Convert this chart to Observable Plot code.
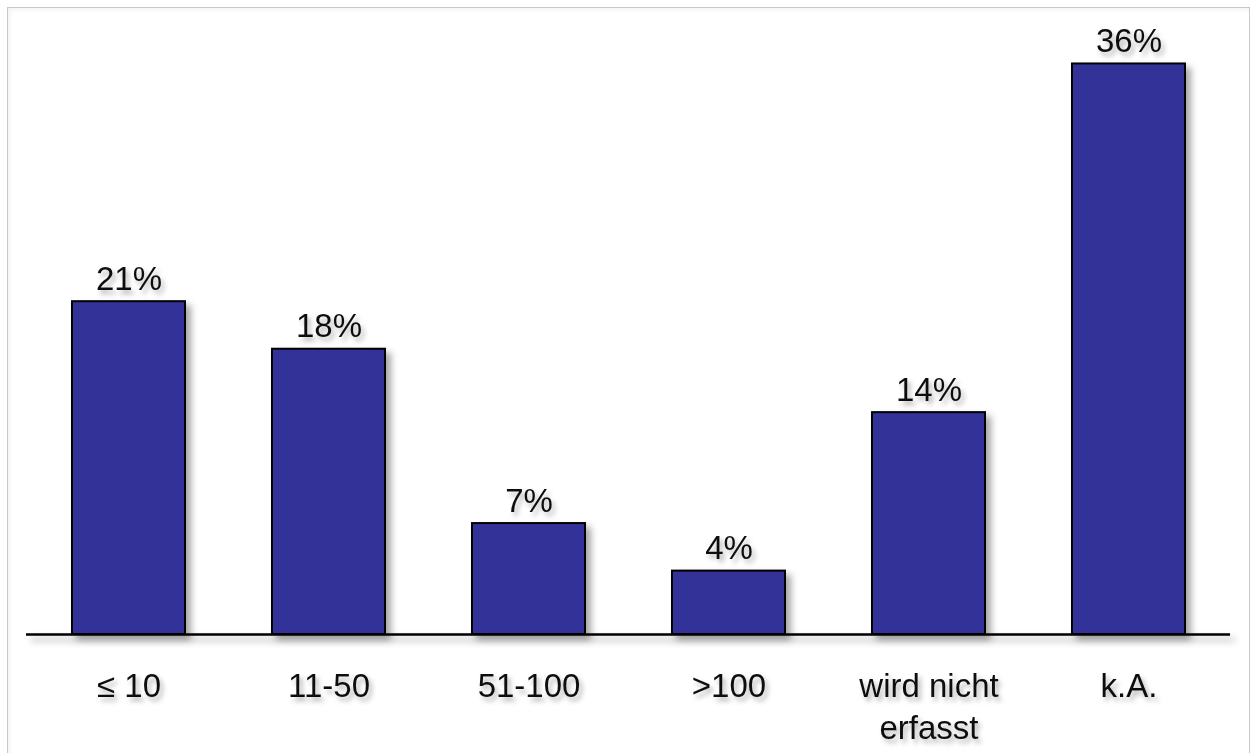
<!DOCTYPE html>
<html>
<head>
<meta charset="utf-8">
<script src="https://cdn.jsdelivr.net/npm/d3@7"></script>
<script src="https://cdn.jsdelivr.net/npm/@observablehq/plot@0.6"></script>
<style>
  html, body { margin: 0; padding: 0; background: #fff; }
  #wrap { position: relative; width: 1251px; height: 753px; overflow: hidden; }
  #frame {
    position: absolute; left: 7px; top: 7px; width: 1243px; height: 800px;
    border: 1.5px solid #c8c8c8; box-shadow: inset 2px 2px 4px rgba(0,0,0,0.05);
    box-sizing: border-box;
  }
  #chart { position: absolute; left: 0; top: 0; }
</style>
</head>
<body>
<div id="wrap">
  <div id="frame"></div>
  <div id="chart"></div>
</div>
<script>
// Anzahl – Kategorien und Anteile in Prozent
const categories = ["≤ 10", "11-50", "51-100", ">100", "wird nicht\nerfasst", "k.A."];
const shares = [21, 18, 7, 4, 14, 36];
const valueLabels = ["21%", "18%", "7%", "4%", "14%", "36%"];

const data = categories.map((c, i) => ({ category: c, share: shares[i], label: valueLabels[i] }));

const font = "'Liberation Sans', Arial, sans-serif";

const chart = Plot.plot({
  width: 1251,
  height: 753,
  marginLeft: 26,
  marginRight: 21,
  marginTop: 8,
  marginBottom: 119,
  style: { fontFamily: font, background: "transparent", overflow: "visible" },
  x: { domain: categories, paddingInner: 0.436, paddingOuter: 0.218, axis: null },
  y: { domain: [0, 39.5], axis: null },
  marks: [
    Plot.barY(data, {
      x: "category", y: "share",
      fill: "#333399", stroke: "#000", strokeWidth: 2
    }),
    Plot.ruleY([0], { stroke: "#000", strokeWidth: 2.5 }),
    Plot.text(data, {
      x: "category", y: "share", text: "label",
      lineAnchor: "bottom", dy: -12,
      fontSize: 33, fill: "#111"
    }),
    Plot.text(data, {
      x: "category", y: 0, text: "category",
      lineAnchor: "top", dy: 32, lineHeight: 1.28,
      fontSize: 33, fill: "#111"
    })
  ]
});

// soft drop shadows under bars, baseline and labels
const svg = d3.select(chart);
const defs = svg.insert("defs", ":first-child");
const addShadow = (id, dx, dy, sd, op) =>
  defs.append("filter").attr("id", id)
    .attr("filterUnits", "userSpaceOnUse")
    .attr("x", 0).attr("y", 0).attr("width", 1251).attr("height", 753)
    .append("feDropShadow")
    .attr("dx", dx).attr("dy", dy).attr("stdDeviation", sd)
    .attr("flood-color", "#000").attr("flood-opacity", op);
addShadow("barShadow", 5, 5, 3.5, 0.35);
addShadow("textShadow", 3, 4, 2.5, 0.3);

svg.selectAll("g[aria-label='bar'], g[aria-label='rule']").attr("filter", "url(#barShadow)");
svg.selectAll("g[aria-label='text']").attr("filter", "url(#textShadow)");

document.getElementById("chart").appendChild(chart);
</script>
</body>
</html>
